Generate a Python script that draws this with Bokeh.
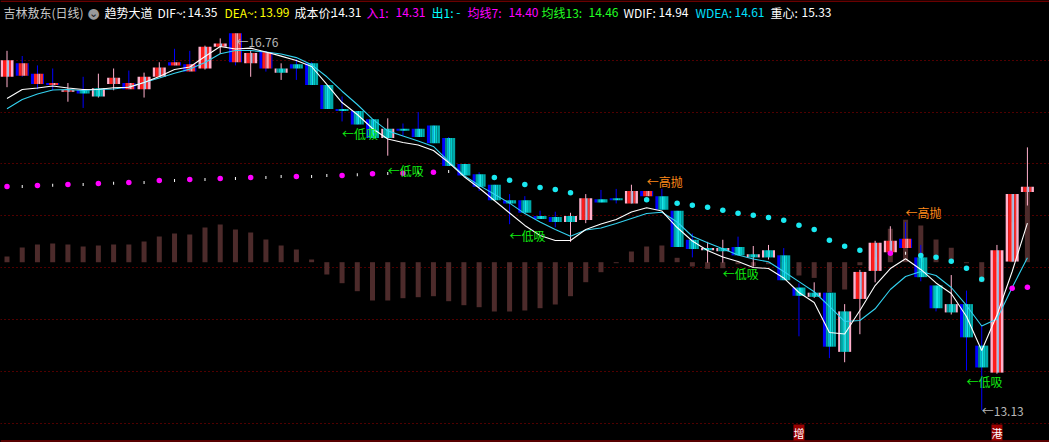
import numpy as np
from bokeh.plotting import figure
from bokeh.models import (Range1d, FixedTicker, ColumnDataSource, Label, Span,
                          GlobalInlineStyleSheet)
from bokeh.transform import dodge
from bokeh.core.properties import value
from bokeh.embed import file_html
from bokeh.resources import INLINE

# ---------------- data ----------------
open_ = [16.34, 16.35, 16.27, 16.26, 16.20, 16.21, 16.23, 16.27, 16.22, 16.22,
         16.34, 16.45, 16.39, 16.42, 16.63, 16.48, 16.47, 16.42, 16.42, 16.46,
         16.47, 16.26, 16.03, 16.01, 15.93, 15.84, 15.84, 15.84, 15.87, 15.75,
         15.50, 15.40, 15.30, 15.15, 15.15, 15.00, 14.99, 15.00, 14.96, 15.16,
         15.17, 15.12, 15.19, 15.19, 15.05, 14.77, 14.69, 14.69, 14.70, 14.63,
         14.67, 14.62, 14.31, 14.26, 14.26, 14.08, 14.20, 14.47, 14.65, 14.69,
         14.60, 14.33, 14.15, 14.15, 13.75, 13.49, 14.56, 15.23]
close = [16.50, 16.47, 16.37, 16.28, 16.21, 16.18, 16.15, 16.33, 16.28, 16.34,
         16.43, 16.48, 16.46, 16.63, 16.66, 16.76, 16.57, 16.58, 16.38, 16.42,
         16.26, 16.03, 16.01, 15.88, 15.75, 15.75, 15.82, 15.76, 15.70, 15.48,
         15.39, 15.28, 15.15, 15.12, 15.03, 14.97, 14.94, 14.94, 15.17, 15.13,
         15.15, 15.24, 15.24, 15.06, 14.70, 14.68, 14.67, 14.66, 14.62, 14.60,
         14.60, 14.38, 14.23, 14.22, 13.74, 13.69, 14.46, 14.74, 14.76, 14.78,
         14.41, 14.11, 14.07, 13.83, 13.54, 14.67, 15.21, 15.28]
high = [16.59, 16.54, 16.45, 16.42, 16.28, 16.34, 16.37, 16.42, 16.40, 16.38,
        16.48, 16.61, 16.59, 16.64, 16.71, 16.76, 16.59, 16.59, 16.47, 16.51,
        16.48, 16.26, 16.15, 16.01, 15.93, 15.94, 15.89, 16.00, 15.87, 15.76,
        15.50, 15.42, 15.30, 15.21, 15.19, 15.05, 15.04, 15.03, 15.21, 15.25,
        15.26, 15.30, 15.24, 15.26, 15.05, 14.83, 14.75, 14.77, 14.80, 14.71,
        14.72, 14.69, 14.35, 14.36, 14.26, 14.15, 14.48, 14.76, 14.90, 14.94,
        14.72, 14.33, 14.43, 14.28, 13.95, 14.72, 15.21, 15.66]
low = [16.24, 16.34, 16.22, 16.21, 16.10, 16.04, 16.14, 16.21, 16.22, 16.14,
       16.34, 16.45, 16.39, 16.41, 16.56, 16.45, 16.34, 16.39, 16.31, 16.31,
       16.26, 16.03, 15.91, 15.88, 15.75, 15.58, 15.77, 15.76, 15.70, 15.48,
       15.39, 15.24, 15.15, 14.92, 15.03, 14.97, 14.89, 14.75, 14.93, 15.13,
       15.12, 15.12, 15.19, 15.06, 14.70, 14.60, 14.55, 14.55, 14.62, 14.51,
       14.58, 14.38, 13.84, 14.21, 13.63, 13.59, 13.86, 14.36, 14.65, 14.69,
       14.37, 14.08, 14.05, 13.51, 13.13, 13.48, 14.56, 15.10]
# candle frame state: "p" = pink frame, "b" = blue frame
edge = list("pbbbpbppbp" "pbbppbpbpb" "bbbbbpbbbb" "bbbbbbbppb"
            "bpbbbbppbp" "pbbpbppppb" "bbpbbppp")

wdif = [16.131, 16.218, 16.232, 16.251, 16.232, 16.218, 16.220, 16.234, 16.239, 16.285,
        16.343, 16.410, 16.434, 16.536, 16.632, 16.608, 16.616, 16.579, 16.539, 16.497,
        16.439, 16.266, 16.092, 15.977, 15.842, 15.741, 15.707, 15.683, 15.630, 15.514,
        15.380, 15.269, 15.148, 15.028, 14.908, 14.811, 14.763, 14.763, 14.869, 14.922,
        14.965, 15.038, 15.078, 15.047, 14.888, 14.758, 14.667, 14.604, 14.561, 14.503,
        14.493, 14.402, 14.262, 14.166, 13.877, 13.862, 14.089, 14.329, 14.493, 14.587,
        14.484, 14.354, 14.252, 14.031, 13.703, 14.045, 14.464, 14.930]
wdea = [16.032, 16.121, 16.174, 16.213, 16.218, 16.208, 16.218, 16.223, 16.242, 16.285,
        16.329, 16.374, 16.414, 16.477, 16.562, 16.593, 16.593, 16.579, 16.559, 16.525,
        16.455, 16.340, 16.201, 16.073, 15.932, 15.819, 15.770, 15.722, 15.669, 15.526,
        15.389, 15.294, 15.209, 15.123, 15.022, 14.941, 14.869, 14.804, 14.864, 14.883,
        14.927, 14.975, 15.023, 15.035, 14.941, 14.804, 14.742, 14.683, 14.624, 14.584,
        14.558, 14.465, 14.367, 14.269, 14.129, 13.983, 13.992, 14.105, 14.291, 14.416,
        14.464, 14.426, 14.310, 14.137, 13.939, 14.007, 14.310, 14.596]
macd = [0.057, 0.147, 0.177, 0.187, 0.177, 0.157, 0.167, 0.177, 0.177, 0.207,
        0.257, 0.287, 0.277, 0.347, 0.377, 0.327, 0.297, 0.227, 0.167, 0.127,
        0.027, -0.123, -0.21, -0.29, -0.383, -0.383, -0.36, -0.35, -0.34, -0.39,
        -0.43, -0.45, -0.493, -0.493, -0.483, -0.46, -0.423, -0.34, -0.20, -0.10,
        -0.01, 0.107, 0.157, 0.167, 0.044, -0.043, -0.066, -0.06, -0.02, -0.04,
        -0.02, -0.10, -0.133, -0.157, -0.30, -0.273, -0.03, 0.05, 0.334, 0.424,
        0.367, 0.227, 0.144, -0.01, -0.20, 0.05, 0.40, 0.75]
N = None
entry_line = [15.283, 15.283, 15.293, 15.296, 15.303, 15.303, 15.312, 15.315, 15.322, 15.322,
              15.341, 15.341, 15.351, 15.351, 15.360, 15.360, 15.370, 15.370, 15.380, 15.380,
              15.380, 15.389, 15.389, 15.396, 15.406, 15.408, 15.411, 15.415, 15.421, 15.428,
              N, N, N, N, N, N, N, N, N, N,
              N, N, N, N, N, N, N, N, N, N,
              N, N, N, N, N, N, N, N, 14.641, 14.641,
              N, N, N, N, N, N, 14.303, 14.313]
# "d" = dot, "w" = small white mark
entry_kind = list("dwdwdwdwdwdwdwdwdwwdwwdwdwdwdw" + "-" * 28 + "dw" + "-" * 6 + "dd")
exit_line = [N] * 32 + [15.370, 15.344, 15.303, 15.274, 15.254, 15.223, N, N, N, N,
                        15.155, N, 15.122, 15.103, 15.084, 15.055, 15.026, 15.007, 14.985, 14.959,
                        14.910, 14.869, 14.766, 14.708, 14.670, N, N, N, 14.619, 14.602,
                        14.564, 14.496, 14.390, N, N, N]

buy_idx = [22, 25, 33, 47, 63]
buy_y = [15.794, 15.437, 14.811, 14.445, 13.405]
sell_idx = [42, 59]
sell_y = [15.331, 15.032]
event_idx = [52, 65]
event_text = ["增", "港"]

grid_levels = [13.0, 13.5, 14.0, 14.5, 15.0, 15.5, 16.0, 16.5]

header_names = ["吉林敖东(日线)", "趋势大道", "DIF~:", "DEA~:", "成本价:", "入1:", "出1:",
                "均线7:", "均线13:", "WDIF:", "WDEA:", "重心:"]
header_values = [None, None, "14.35", "13.99", "14.31", "14.31", "-", "14.40", "14.46",
                 "14.94", "14.61", "15.33"]

# ---------------- layout / styles ----------------
W, H = 1049, 442
PITCH = 15.23          # px per bar
PPU = 103.8            # px per price unit
MPU = 100.0            # px per macd unit
MACD_ZERO_PX = 261.7   # from top
X0 = -6.5 / PITCH
Y_TOP = 17.075
Y_BOT = Y_TOP - H / PPU
FONT = "Noto Sans CJK SC"

header_x = [3, 104, 157, 224, 294, 366, 431, 467, 541, 623, 695, 770]
header_val_end = [None, None, 217, 289, 361, 425, 460, 538, 618, 688, 764, 831]
header_colors = ["#c8c8c8", "#ffffff", "#ffffff", "#ffff00", "#ffffff", "#ff00ff", "#00ffff",
                 "#ff00ff", "#22ff22", "#ffffff", "#00e0ff", "#ffffff"]

PINK = "#ffb0cc"
BLUE = "#0000ff"
STRIPES = {
    "rp": [(-6.5, -4, PINK), (-4, -1, "#ff1c1c"), (-1, 0, "#ff7272"), (0, 2, "#a9bde6"),
           (2, 4, "#ff2d2d"), (4, 6.5, PINK)],
    "rb": [(-6.5, -3.5, BLUE), (-3.5, -0.5, "#ff1c1c"), (-0.5, 1, "#ff7272"),
           (1, 3, "#ffa0b4"), (3, 5.5, "#ff2d2d"), (5.5, 6.5, BLUE)],
    "cb": [(-6.5, -3.5, BLUE), (-3.5, -2, "#00a0a0"), (-2, 0, "#00c2c2"), (0, 2, "#1ae6e6"),
           (2, 4, "#00cccc"), (4, 6.5, "#00a8a8")],
    "cp": [(-6.5, -4.5, PINK), (-4.5, -2.5, "#00a0a0"), (-2.5, 0, "#00c6c6"), (0, 2, "#1ae6e6"),
           (2, 4.5, "#00b6b6"), (4.5, 6.5, PINK)],
}

p = figure(width=W, height=H, x_range=Range1d(X0, X0 + W / PITCH),
           y_range=Range1d(Y_BOT, Y_TOP), output_backend="svg", toolbar_location=None,
           min_border=0, background_fill_color="#000000", border_fill_color="#000000",
           outline_line_color=None)
p.stylesheets = [GlobalInlineStyleSheet(
    css="html, body { margin: 0; padding: 0; background: #000000; overflow: hidden; }")]
p.extra_y_ranges = {"macd": Range1d(-(H - MACD_ZERO_PX) / MPU, MACD_ZERO_PX / MPU)}
p.xaxis.visible = False
p.yaxis.visible = False
p.xgrid.visible = False
p.ygrid.ticker = FixedTicker(ticks=grid_levels)
p.ygrid.grid_line_color = "#a00000"
p.ygrid.grid_line_dash = "1 3"
p.ygrid.grid_line_width = 1

n = len(open_)
x = np.arange(n)
o = np.array(open_); c = np.array(close)
hi = np.array(high); lo = np.array(low)

# MACD-like histogram
p.vbar(x=x, width=5 / PITCH, bottom=0, top=macd, y_range_name="macd",
       fill_color="#4d2b2b", line_color=None)

# wicks
wick_col = [PINK if e == "p" else BLUE for e in edge]
p.segment(x0=x, y0=lo, x1=x, y1=hi, line_color=wick_col, line_width=1)

# bodies
body_top = np.maximum(o, c)
body_bot = np.minimum(o, c)
min_h = 1.5 / PPU
body_bot = np.where(body_top - body_bot < min_h, body_top - min_h, body_bot)
kind = [("r" if cc > oo else "c") + e for oo, cc, e in zip(open_, close, edge)]
for k, stripes in STRIPES.items():
    sel = [i for i in range(n) if kind[i] == k]
    if not sel:
        continue
    src = ColumnDataSource(dict(x=x[sel], top=body_top[sel], bottom=body_bot[sel]))
    for l, r, col in stripes:
        p.quad(left=dodge("x", l / PITCH, range=p.x_range),
               right=dodge("x", r / PITCH, range=p.x_range),
               top="top", bottom="bottom", source=src, fill_color=col, line_color=None)

# lines
p.line(x, wdea, line_color="#33d2f0", line_width=1.1)
p.line(x, wdif, line_color="#ffffff", line_width=1.1)

# dots
ent = np.array([np.nan if v is None else v for v in entry_line])
ext = np.array([np.nan if v is None else v for v in exit_line])
dmask = np.array([k == "d" for k in entry_kind])
wmask = np.array([k == "w" for k in entry_kind])
p.scatter(x[dmask], ent[dmask], marker="circle", size=5.5, fill_color="#ff00ff", line_color=None)
p.rect(x[wmask], ent[wmask], width=1, height=3, width_units="screen", height_units="screen",
       fill_color="#ffffff", line_color=None)
em = ~np.isnan(ext)
p.scatter(x[em], ext[em], marker="circle", size=5.5, fill_color="#1ae8f0", line_color=None)

# signal texts
p.text(x=buy_idx, y=buy_y, text=["←低吸"] * len(buy_idx), text_color="#11ee11",
       text_font=value(FONT), text_font_size="12px", text_align="left", text_baseline="middle")
p.text(x=sell_idx, y=sell_y, text=["←高抛"] * len(sell_idx), text_color="#ff8a1a",
       text_font=value(FONT), text_font_size="12px", text_align="left", text_baseline="middle")

# max / min labels
i_hi = int(np.argmax(hi)); i_lo = int(np.argmin(lo))
p.add_layout(Label(x=i_hi, y=hi[i_hi], text=f"←{hi[i_hi]:.2f}", text_color="#b8b8b8",
                   text_font=FONT, text_font_size="12px", text_baseline="top", x_offset=1,
                   y_offset=0))
p.add_layout(Label(x=i_lo, y=lo[i_lo], text=f"←{lo[i_lo]:.2f}", text_color="#b8b8b8",
                   text_font=FONT, text_font_size="12px", text_baseline="middle", x_offset=0,
                   y_offset=-1))

# event boxes at bottom
for ei, et in zip(event_idx, event_text):
    p.add_layout(Label(x=ei, y=10, x_units="data", y_units="screen", text=et,
                       text_color="#ffffff", text_font=FONT, text_font_size="11px",
                       text_align="center", text_baseline="middle",
                       background_fill_color="#9a0000"))

# border lines
p.add_layout(Span(location=Y_TOP - 0.6 / PPU, dimension="width", line_color="#b00000",
                  line_width=1))
p.add_layout(Span(location=Y_TOP - 440.5 / PPU, dimension="width", line_color="#b00000",
                  line_width=1))

# header
for name, val, hx, vx, hc in zip(header_names, header_values, header_x, header_val_end,
                                 header_colors):
    p.add_layout(Label(x=hx, y=H - 12, x_units="screen", y_units="screen", text=name,
                       text_color=hc, text_font=FONT, text_font_size="12px",
                       text_baseline="middle"))
    if val is not None:
        p.add_layout(Label(x=vx, y=H - 12, x_units="screen", y_units="screen", text=val,
                           text_color=hc, text_font=FONT, text_font_size="12px",
                           text_align="right", text_baseline="middle"))
p.add_layout(Label(x=93, y=H - 12, x_units="screen", y_units="screen", text="●",
                   text_color="#9a9a9a", text_font="DejaVu Sans", text_font_size="14px",
                   text_align="center", text_baseline="middle"))
p.add_layout(Label(x=93, y=H - 12.5, x_units="screen", y_units="screen", text="⌄",
                   text_color="#202020", text_font="DejaVu Sans", text_font_size="11px",
                   text_align="center", text_baseline="middle"))

open("out.html", "w").write(file_html(p, INLINE))
